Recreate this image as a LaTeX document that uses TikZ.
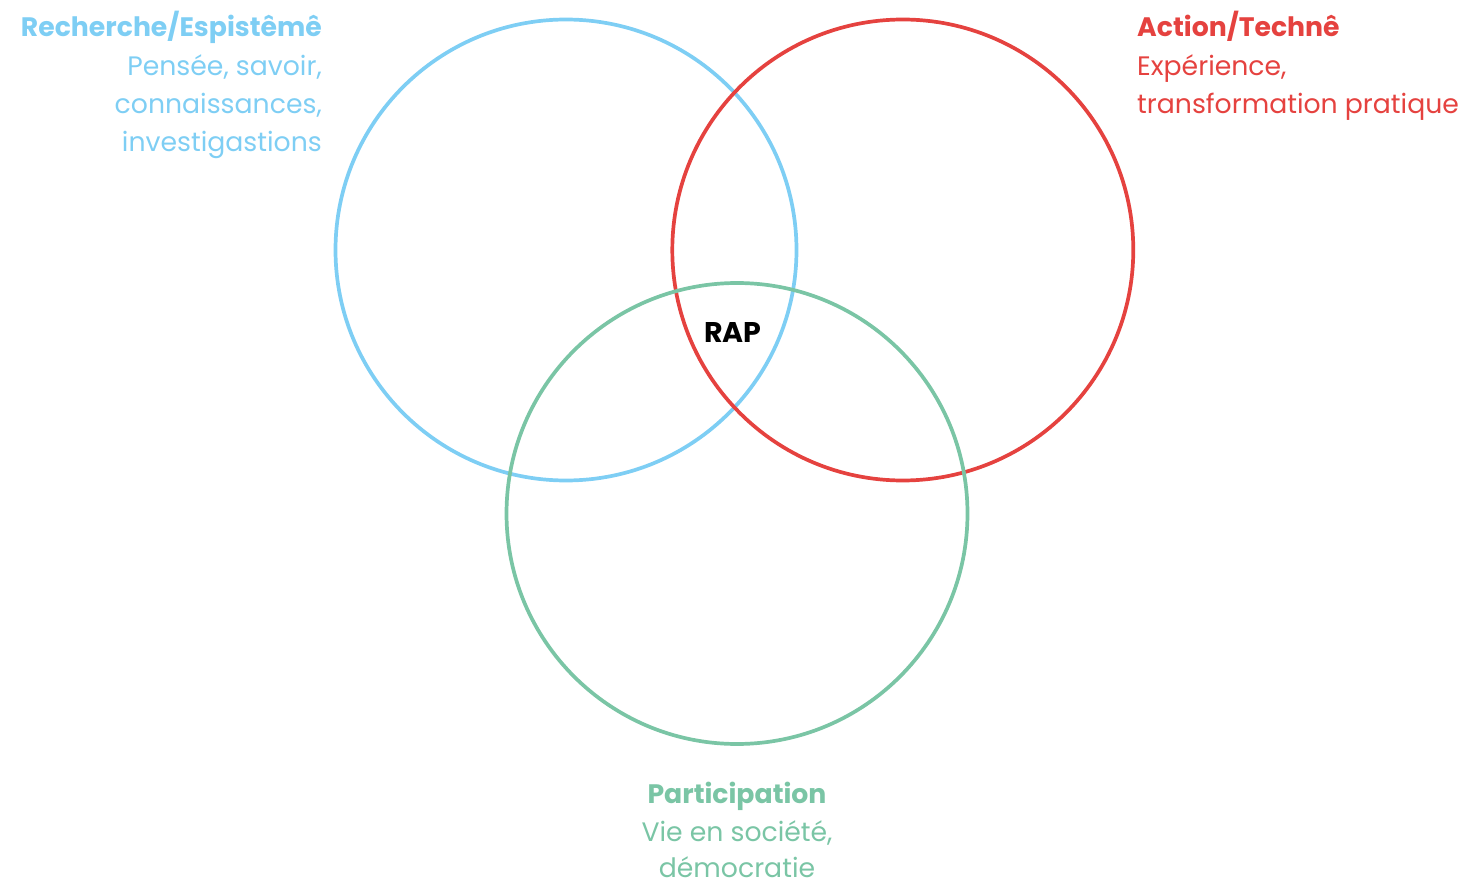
\documentclass[tikz,border=0pt]{standalone}
\usepackage{fontspec}
\setmainfont{Poppins}
\definecolor{cblue}{HTML}{7ECEF4}
\definecolor{cred}{HTML}{E5423F}
\definecolor{cgreen}{HTML}{7AC5A5}
\tikzset{
  ring/.style={line width=3.7pt},
  ttl/.style={inner sep=0pt, font=\fontsize{26.7}{38}\selectfont\bfseries},
  body/.style={inner sep=0pt, font=\fontsize{26.7}{38}\selectfont},
  center/.style={inner sep=0pt, font=\fontsize{28.5}{38}\selectfont\bfseries},
}
\begin{document}
\begin{tikzpicture}[x=1pt,y=-1pt]
\useasboundingbox (0,0) rectangle (1465,885);
\draw[ring,cblue] (566,250) circle[radius=230.5];
\draw[ring,cred] (902.8,250) circle[radius=230.5];
\draw[ring,cgreen] (737,513.5) circle[radius=230.5];
\node[center,text=black,anchor=base] (rap) at (733,343) {RAP};
\node[ttl,text=cblue,anchor=base east] (t1) at (322,37) {Recherche/Espistêmê};
\node[body,text=cblue,anchor=base east] (b1a) at (322,76) {Pensée, savoir,};
\node[body,text=cblue,anchor=base east] (b1b) at (322,114) {connaissances,};
\node[body,text=cblue,anchor=base east] (b1c) at (322,152) {investigastions};
\node[ttl,text=cred,anchor=base west] (t2) at (1137,37) {Action/Technê};
\node[body,text=cred,anchor=base west] (b2a) at (1137,76) {Expérience,};
\node[body,text=cred,anchor=base west] (b2b) at (1137,114) {transformation pratique};
\node[ttl,text=cgreen,anchor=base] (t3) at (737,803) {Participation};
\node[body,text=cgreen,anchor=base] (b3a) at (737,841) {Vie en société,};
\node[body,text=cgreen,anchor=base,text depth=0pt] (b3b) at (737,877) {démocratie};
\end{tikzpicture}
\end{document}
